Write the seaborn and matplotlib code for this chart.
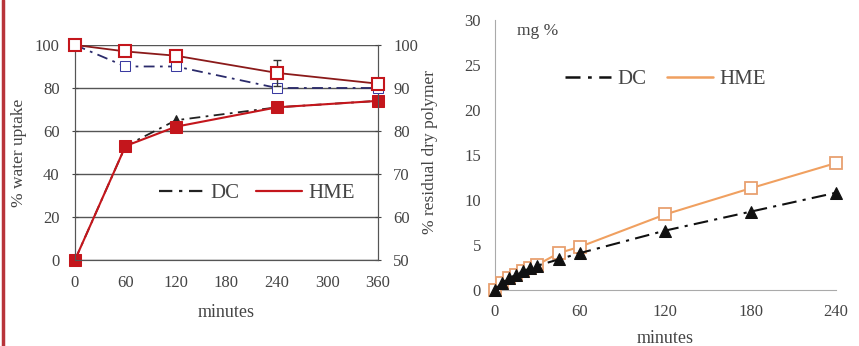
import numpy as np
import pandas as pd
import matplotlib
matplotlib.use("Agg")
import matplotlib.pyplot as plt
import seaborn as sns
from matplotlib.lines import Line2D

sns.set_style("white")
plt.rcParams['font.family'] = ['Liberation Serif', 'DejaVu Serif']

# ---- data: left panel ----
t_left = [0, 60, 120, 240, 360]
uptake_dc = [0, 53, 65, 71, 74]
uptake_hme = [0, 53, 62, 71, 74]
residual_dc = [100, 95, 95, 90, 90]
residual_hme = [100, 98.5, 97.5, 93.5, 91]
residual_hme_err = [0, 0, 0, 3, 0]

# ---- data: right panel ----
t_right = [0, 5, 10, 15, 20, 25, 30, 45, 60, 120, 180, 240]
mg_dc = [0, 0.8, 1.3, 1.7, 2.1, 2.4, 2.7, 3.4, 4.1, 6.6, 8.7, 10.8]
mg_hme = [0, 0.8, 1.3, 1.7, 2.1, 2.4, 2.8, 4.1, 4.8, 8.4, 11.3, 14.1]

left_xticks = [0, 60, 120, 180, 240, 300, 360]
left_yticks = [0, 20, 40, 60, 80, 100]
right2_yticks = [50, 60, 70, 80, 90, 100]
right_xticks = [0, 60, 120, 180, 240]
right_yticks = [0, 5, 10, 15, 20, 25, 30]

txt = "#444444"
fig = plt.figure(figsize=(8.59, 3.46), dpi=100)

# red border line on the left edge
fig.add_artist(Line2D([0.003, 0.003], [0, 1], color="#b8343a", lw=2.5))

# ---------------- Left panel ----------------
ax = fig.add_axes([0.0873, 0.2486, 0.3527, 0.6214])
ax2 = ax.twinx()

df_l = pd.DataFrame({"t": t_left, "dc": uptake_dc, "hme": uptake_hme,
                     "rdc": residual_dc, "rhme": residual_hme})

sns.lineplot(data=df_l, x="t", y="dc", ax=ax, color="#222222", lw=1.3,
             marker="^", markersize=7, markerfacecolor="#222222",
             markeredgecolor="#222222", zorder=3, clip_on=False)
ax.lines[-1].set_dashes([6, 3, 1.5, 3])
sns.lineplot(data=df_l, x="t", y="hme", ax=ax, color="#c4161c", lw=1.5,
             marker="s", markersize=9, markerfacecolor="#c4161c",
             markeredgecolor="#c4161c", zorder=4, clip_on=False)

sns.lineplot(data=df_l, x="t", y="rdc", ax=ax2, color="#2b2b6b", lw=1.3,
             marker="s", markersize=7, markerfacecolor="white",
             markeredgecolor="#3a3aa0", zorder=3, clip_on=False)
ax2.lines[-1].set_dashes([6, 3, 1.5, 3])
ax2.errorbar(t_left, residual_hme, yerr=residual_hme_err, fmt="none",
             ecolor="#333333", capsize=3, lw=1, zorder=4)
sns.lineplot(data=df_l, x="t", y="rhme", ax=ax2, color="#8b1a1a", lw=1.3,
             marker="s", markersize=9, markerfacecolor="white",
             markeredgecolor="#c4161c", markeredgewidth=1.5, zorder=5,
             clip_on=False)

ax.set_xlim(0, 360)
ax.set_ylim(0, 100)
ax2.set_ylim(50, 100)
ax.set_xticks(left_xticks)
ax.set_yticks(left_yticks)
ax2.set_yticks(right2_yticks)
ax.yaxis.grid(True, color="#555555", lw=1.0)
ax.set_axisbelow(True)
for a in (ax, ax2):
    for s in a.spines.values():
        s.set_color("#555555")
    a.spines["top"].set_visible(False)
ax.tick_params(axis="x", labelsize=12, colors=txt, length=4, direction="inout", pad=9)
ax.tick_params(axis="y", labelsize=12, colors=txt, length=4, direction="inout", pad=9)
ax2.tick_params(axis="y", labelsize=12, colors=txt, length=4, direction="inout", pad=9)
ax.set_xlabel("minutes", fontsize=13, color=txt, labelpad=9)
ax.set_ylabel("% water uptake", fontsize=12.5, color=txt, labelpad=6)
ax2.set_ylabel("% residual dry polymer", fontsize=12.5, color=txt, labelpad=3)

h1 = Line2D([], [], color="#222222", lw=1.6, dashes=[6, 3, 1.5, 3])
h2 = Line2D([], [], color="#c4161c", lw=1.6)
ax2.legend([h1, h2], ["DC", "HME"], ncol=2, frameon=False, fontsize=15,
           loc="center", bbox_to_anchor=(0.6, 0.31), handlelength=2.2,
           columnspacing=0.8, handletextpad=0.3, labelcolor=txt)

# ---------------- Right panel ----------------
bx = fig.add_axes([0.576, 0.162, 0.397, 0.78])
df_r = pd.DataFrame({"t": t_right, "dc": mg_dc, "hme": mg_hme})
sns.lineplot(data=df_r, x="t", y="hme", ax=bx, color="#f0a060", lw=1.5,
             marker="s", markersize=8, markerfacecolor="white",
             markeredgecolor="#e8a070", markeredgewidth=1.3, zorder=3,
             clip_on=False)
sns.lineplot(data=df_r, x="t", y="dc", ax=bx, color="#111111", lw=1.5,
             marker="^", markersize=9, markerfacecolor="#111111",
             markeredgecolor="#111111", zorder=4, clip_on=False)
bx.lines[-1].set_dashes([7, 3, 1.5, 3])
bx.set_xlim(0, 240)
bx.set_ylim(0, 30)
bx.set_xticks(right_xticks)
bx.set_yticks(right_yticks)
for s in ["top", "right"]:
    bx.spines[s].set_visible(False)
for s in ["left", "bottom"]:
    bx.spines[s].set_color("#aaaaaa")
bx.tick_params(axis="both", labelsize=12, colors=txt, length=4, direction="inout", pad=8)
bx.tick_params(axis="both", color="#aaaaaa")
bx.set_xlabel("minutes", fontsize=13, color=txt, labelpad=7)
bx.set_ylabel("")
bx.text(0.065, 0.99, "mg %", transform=bx.transAxes, fontsize=12.5, color=txt,
        va="top", ha="left")
g1 = Line2D([], [], color="#111111", lw=1.8, dashes=[6, 3, 1.5, 3])
g2 = Line2D([], [], color="#f0a060", lw=1.8)
bx.legend([g1, g2], ["DC", "HME"], ncol=2, frameon=False, fontsize=15,
          loc="center", bbox_to_anchor=(0.5, 0.78), handlelength=2.2,
          columnspacing=1.0, handletextpad=0.3, labelcolor=txt)

fig.savefig("out.png", dpi=100)
